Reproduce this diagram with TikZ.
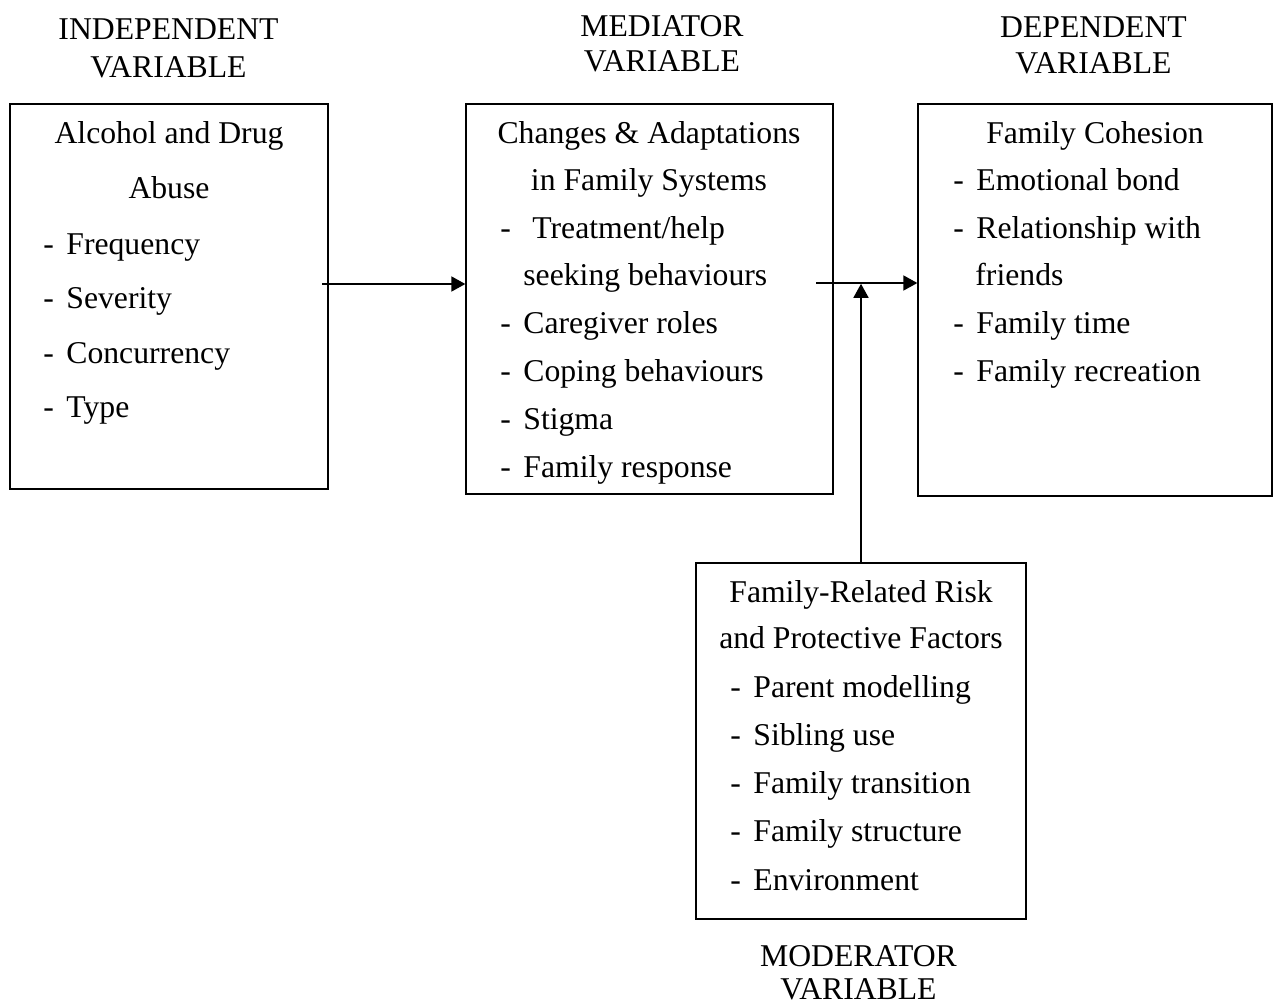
\documentclass[tikz,border=0pt]{standalone}
\usepackage{fontspec}
\setmainfont{Liberation Serif}
\usetikzlibrary{arrows.meta}

\newcommand{\dashitem}[1]{\makebox[11.5pt][l]{-}#1}

\begin{document}
\begin{tikzpicture}[x=0.5pt,y=-0.5pt,font=\fontsize{15.85}{19}\selectfont,
    box/.style={draw,line width=0.65pt,inner sep=0pt},
    txt/.style={inner sep=0pt,anchor=base},
    itm/.style={inner sep=0pt,anchor=base west},
    link/.style={draw,line width=0.85pt,-{Triangle[length=7pt,width=7.5pt]}}]
      \useasboundingbox (0,0) rectangle (1274,1007);

      \node[box,minimum width=159pt,minimum height=192.5pt] (iv)  at (169,296.5) {};
      \node[box,minimum width=183.5pt,minimum height=195pt] (med) at (649.5,299) {};
      \node[box,minimum width=177pt,minimum height=196pt]   (dv)  at (1095,300) {};
      \node[box,minimum width=165pt,minimum height=178pt]   (mod) at (861,741) {};

      \node[txt] (iv-lab1)  at (168.5,39)   {INDEPENDENT};
      \node[txt] (iv-lab2)  at (168.5,77)   {VARIABLE};
      \node[txt] (med-lab1) at (662,36)     {MEDIATOR};
      \node[txt] (med-lab2) at (662,71.5)   {VARIABLE};
      \node[txt] (dv-lab1)  at (1093.5,37.5) {DEPENDENT};
      \node[txt] (dv-lab2)  at (1093.5,73)  {VARIABLE};
      \node[txt] (mod-lab1) at (858.5,966)  {MODERATOR};
      \node[txt] (mod-lab2) at (858.5,999)  {VARIABLE};

      \node[txt] (iv-h1) at (169,143) {Alcohol and Drug};
      \node[txt] (iv-h2) at (169,198) {Abuse};
      \foreach \t [count=\i] in {Frequency,Severity,Concurrency,Type}
        \node[itm] (iv-\i) at (43,199.5+54.5*\i) {\dashitem{\t}};

      \node[txt] (med-h1) at (649,143) {Changes \& Adaptations};
      \node[txt] (med-h2) at (649,190) {in Family Systems};
      \node[itm] (med-t)  at (500,238) {\makebox[16pt][l]{-}Treatment/help};
      \node[itm] (med-s)  at (523,285) {seeking behaviours};
      \foreach \t [count=\i] in {Caregiver roles,Coping behaviours,Stigma,Family response}
        \node[itm] (med-\i) at (500,285+48*\i) {\dashitem{\t}};

      \node[txt] (dv-h1) at (1095,143) {Family Cohesion};
      \node[itm] (dv-1)  at (953,190)  {\dashitem{Emotional bond}};
      \node[itm] (dv-2)  at (953,238)  {\dashitem{Relationship with}};
      \node[itm] (dv-2b) at (975,285)  {friends};
      \node[itm] (dv-3)  at (953,333)  {\dashitem{Family time}};
      \node[itm] (dv-4)  at (953,381)  {\dashitem{Family recreation}};

      \node[txt] (mod-h1) at (861,602) {Family-Related Risk};
      \node[txt] (mod-h2) at (861,648) {and Protective Factors};
      \foreach \t [count=\i] in {Parent modelling,Sibling use,Family transition,Family structure,Environment}
        \node[itm] (mod-\i) at (730,649+48.2*\i) {\dashitem{\t}};

      \coordinate (a1) at (322,284);
      \coordinate (a2) at (816,283);
      \path
        (a1)  edge [link] (a1 -| med.west)
        (a2)  edge [link] (a2 -| dv.west)
        (mod.north) edge [link] ([yshift=-0.4pt]mod.north |- a2);
    \end{tikzpicture}
\end{document}
